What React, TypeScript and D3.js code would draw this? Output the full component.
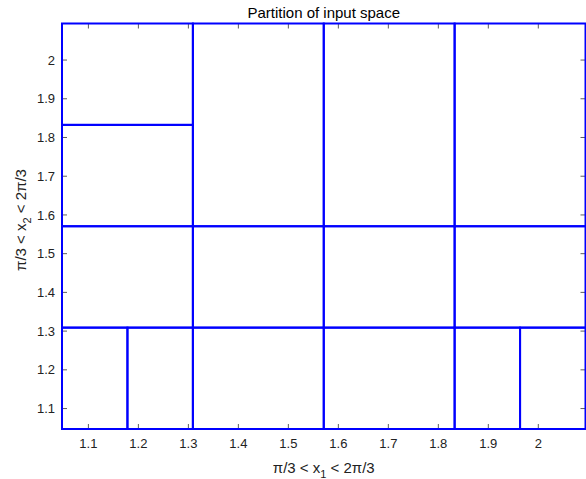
import React from "react";
import * as d3 from "d3";

const xDomain = [Math.PI / 3, (2 * Math.PI) / 3];
const yDomain = [Math.PI / 3, (2 * Math.PI) / 3];
const xTicks = [1.1, 1.2, 1.3, 1.4, 1.5, 1.6, 1.7, 1.8, 1.9, 2];
const yTicks = [1.1, 1.2, 1.3, 1.4, 1.5, 1.6, 1.7, 1.8, 1.9, 2];

// Partition rectangles (cell bounds in input space)
const rectX0 = [Math.PI / 3, 3 * Math.PI / 8, 5 * Math.PI / 12, Math.PI / 2, 7 * Math.PI / 12, 5 * Math.PI / 8, Math.PI / 3, 5 * Math.PI / 12, Math.PI / 2, 7 * Math.PI / 12, Math.PI / 3, Math.PI / 3, 5 * Math.PI / 12, Math.PI / 2, 7 * Math.PI / 12];
const rectX1 = [3 * Math.PI / 8, 5 * Math.PI / 12, Math.PI / 2, 7 * Math.PI / 12, 5 * Math.PI / 8, 2 * Math.PI / 3, 5 * Math.PI / 12, Math.PI / 2, 7 * Math.PI / 12, 2 * Math.PI / 3, 5 * Math.PI / 12, 5 * Math.PI / 12, Math.PI / 2, 7 * Math.PI / 12, 2 * Math.PI / 3];
const rectY0 = [Math.PI / 3, Math.PI / 3, Math.PI / 3, Math.PI / 3, Math.PI / 3, Math.PI / 3, 5 * Math.PI / 12, 5 * Math.PI / 12, 5 * Math.PI / 12, 5 * Math.PI / 12, Math.PI / 2, 7 * Math.PI / 12, Math.PI / 2, Math.PI / 2, Math.PI / 2];
const rectY1 = [5 * Math.PI / 12, 5 * Math.PI / 12, 5 * Math.PI / 12, 5 * Math.PI / 12, 5 * Math.PI / 12, 5 * Math.PI / 12, Math.PI / 2, Math.PI / 2, Math.PI / 2, Math.PI / 2, 7 * Math.PI / 12, 2 * Math.PI / 3, 2 * Math.PI / 3, 2 * Math.PI / 3, 2 * Math.PI / 3];

export default function App() {
  const W = 586, H = 479;
  const L = 62, R = 585.5, T = 23.5, B = 429;
  const x = d3.scaleLinear().domain(xDomain).range([L, R]);
  const y = d3.scaleLinear().domain(yDomain).range([B, T]);
  const font = "Liberation Sans, Arial, Helvetica, sans-serif";
  const tl = 5;
  const rects = rectX0.map((_, i) => ({ x0: rectX0[i], x1: rectX1[i], y0: rectY0[i], y1: rectY1[i] }));
  return (
    <svg width={W} height={H} style={{ position: "absolute", left: 0, top: 0, background: "#fff" }} fontFamily={font}>
      <rect x={0} y={0} width={W} height={H} fill="#fff" />
      <rect x={L} y={T} width={R - L} height={B - T} fill="#fff" stroke="#000" strokeWidth={0.6} />
      {xTicks.map((t) => (
        <g key={"xt" + t}>
          <line x1={x(t)} x2={x(t)} y1={B} y2={B - tl} stroke="#333" strokeWidth={0.8} />
          <line x1={x(t)} x2={x(t)} y1={T} y2={T + tl} stroke="#333" strokeWidth={0.8} />
          <text x={x(t)} y={448} textAnchor="middle" fontSize={13} fill="#222">{String(t)}</text>
        </g>
      ))}
      {yTicks.map((t) => (
        <g key={"yt" + t}>
          <line x1={L} x2={L + tl} y1={y(t)} y2={y(t)} stroke="#333" strokeWidth={0.8} />
          <line x1={R} x2={R - tl} y1={y(t)} y2={y(t)} stroke="#333" strokeWidth={0.8} />
          <text x={55} y={y(t) + 4.6} textAnchor="end" fontSize={13} fill="#222">{String(t)}</text>
        </g>
      ))}
      {rects.map((r, i) => (
        <rect key={"r" + i} x={x(r.x0)} y={y(r.y1)} width={x(r.x1) - x(r.x0)} height={y(r.y0) - y(r.y1)} fill="none" stroke="#0000ff" strokeWidth={2} />
      ))}
      <text x={(L + R) / 2} y={18} textAnchor="middle" fontSize={15} fill="#000">Partition of input space</text>
      <text x={(L + R) / 2} y={473} textAnchor="middle" fontSize={15} fill="#222">
        π/3 &lt; x<tspan dy={5} fontSize={11}>1</tspan><tspan dy={-5}> &lt; 2π/3</tspan>
      </text>
      <text transform={`translate(26, 220) rotate(-90)`} textAnchor="middle" fontSize={15} fill="#222">
        π/3 &lt; x<tspan dy={5} fontSize={11}>2</tspan><tspan dy={-5}> &lt; 2π/3</tspan>
      </text>
    </svg>
  );
}
